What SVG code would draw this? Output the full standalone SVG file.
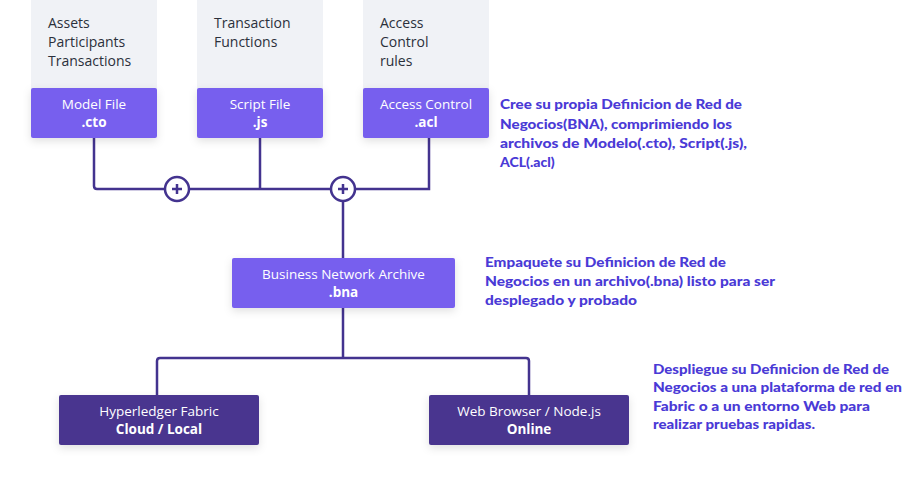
<svg xmlns="http://www.w3.org/2000/svg" width="922" height="478" viewBox="0 0 922 478">
<defs>
<filter id="sh" x="-20%" y="-30%" width="140%" height="170%">
<feDropShadow dx="0" dy="3" stdDeviation="4" flood-color="#000" flood-opacity="0.12"/>
</filter>
<style>
.grey{fill:#F0F2F6}
.lp{fill:#775EEE;filter:url(#sh)}
.dp{fill:#48368F;filter:url(#sh)}
.gt{font-family:"Open Sans","Noto Sans",sans-serif;font-size:14px;fill:#2B303B}
.bt{font-family:"Open Sans","Noto Sans",sans-serif;font-size:13.5px;fill:#FFFFFF;text-anchor:middle}
.bb{font-weight:bold}
.ln{fill:none;stroke:#43338F;stroke-width:2.5}
.pc{fill:#FFFFFF;stroke:#43338F;stroke-width:2.5}
.ann{font-family:Lato,"Open Sans",sans-serif;font-weight:900;font-size:14px;fill:#4A3AD6}
</style>
</defs>
<rect width="922" height="478" fill="#FFFFFF"/>

<g id="connectors">
<path class="ln" d="M94,138 V186 Q94,189 97,189 H429 V138"/>
<path class="ln" d="M260,138 V189"/>
<path class="ln" d="M343,189 V258"/>
<path class="ln" d="M343,308 V358"/>
<path class="ln" d="M157,395 V361 Q157,358 160,358 H526 Q529,358 529,361 V395"/>
<g id="plus1">
<circle class="pc" cx="177" cy="189" r="12"/>
<path class="ln" d="M172,189 H182 M177,184 V194" stroke-width="2"/>
</g>
<g id="plus2">
<circle class="pc" cx="343" cy="189" r="12"/>
<path class="ln" d="M338,189 H348 M343,184 V194" stroke-width="2"/>
</g>
</g>

<g id="model-file">
<rect class="grey" x="31" y="0" width="126" height="90"/>
<text class="gt" x="48" y="28">Assets</text>
<text class="gt" x="48" y="47">Participants</text>
<text class="gt" x="48" y="66">Transactions</text>
<rect class="lp" x="31" y="88" width="126" height="50" rx="2"/>
<text class="bt" x="94" y="109">Model File</text>
<text class="bt bb" x="94" y="127">.cto</text>
</g>

<g id="script-file">
<rect class="grey" x="197" y="0" width="126" height="90"/>
<text class="gt" x="214" y="28">Transaction</text>
<text class="gt" x="214" y="47">Functions</text>
<rect class="lp" x="197" y="88" width="126" height="50" rx="2"/>
<text class="bt" x="260" y="109">Script File</text>
<text class="bt bb" x="260" y="127">.js</text>
</g>

<g id="access-control">
<rect class="grey" x="363" y="0" width="126" height="90"/>
<text class="gt" x="380" y="28">Access</text>
<text class="gt" x="380" y="47">Control</text>
<text class="gt" x="380" y="66">rules</text>
<rect class="lp" x="363" y="88" width="126" height="50" rx="2"/>
<text class="bt" x="426" y="109">Access Control</text>
<text class="bt bb" x="426" y="127">.acl</text>
</g>

<g id="note-1">
<text class="ann" x="500" y="109" textLength="242" lengthAdjust="spacingAndGlyphs">Cree su propia Definicion de Red de</text>
<text class="ann" x="500" y="129" textLength="232" lengthAdjust="spacingAndGlyphs">Negocios(BNA), comprimiendo los</text>
<text class="ann" x="500" y="148" textLength="247" lengthAdjust="spacingAndGlyphs">archivos de Modelo(.cto), Script(.js),</text>
<text class="ann" x="500" y="167">ACL(.acl)</text>
</g>

<g id="bna">
<rect class="lp" x="232" y="258" width="223" height="50" rx="2"/>
<text class="bt" x="343.5" y="279">Business Network Archive</text>
<text class="bt bb" x="343.5" y="297">.bna</text>
</g>

<g id="note-2">
<text class="ann" x="485" y="267" textLength="241" lengthAdjust="spacingAndGlyphs">Empaquete su Definicion de Red de</text>
<text class="ann" x="485" y="286" textLength="290" lengthAdjust="spacingAndGlyphs">Negocios en un archivo(.bna) listo para ser</text>
<text class="ann" x="485" y="305" textLength="152" lengthAdjust="spacingAndGlyphs">desplegado y probado</text>
</g>

<g id="hyperledger">
<rect class="dp" x="59" y="395" width="200" height="50" rx="2"/>
<text class="bt" x="159" y="416">Hyperledger Fabric</text>
<text class="bt bb" x="159" y="434">Cloud / Local</text>
</g>

<g id="web-browser">
<rect class="dp" x="429" y="395" width="200" height="50" rx="2"/>
<text class="bt" x="529" y="416">Web Browser / Node.js</text>
<text class="bt bb" x="529" y="434">Online</text>
</g>

<g id="note-3">
<text class="ann" x="653" y="374" textLength="236" lengthAdjust="spacingAndGlyphs">Despliegue su Definicion de Red de</text>
<text class="ann" x="653" y="392" textLength="249" lengthAdjust="spacingAndGlyphs">Negocios a una plataforma de red en</text>
<text class="ann" x="653" y="411" textLength="217" lengthAdjust="spacingAndGlyphs">Fabric o a un entorno Web para</text>
<text class="ann" x="653" y="429" textLength="162" lengthAdjust="spacingAndGlyphs">realizar pruebas rapidas.</text>
</g>
</svg>
